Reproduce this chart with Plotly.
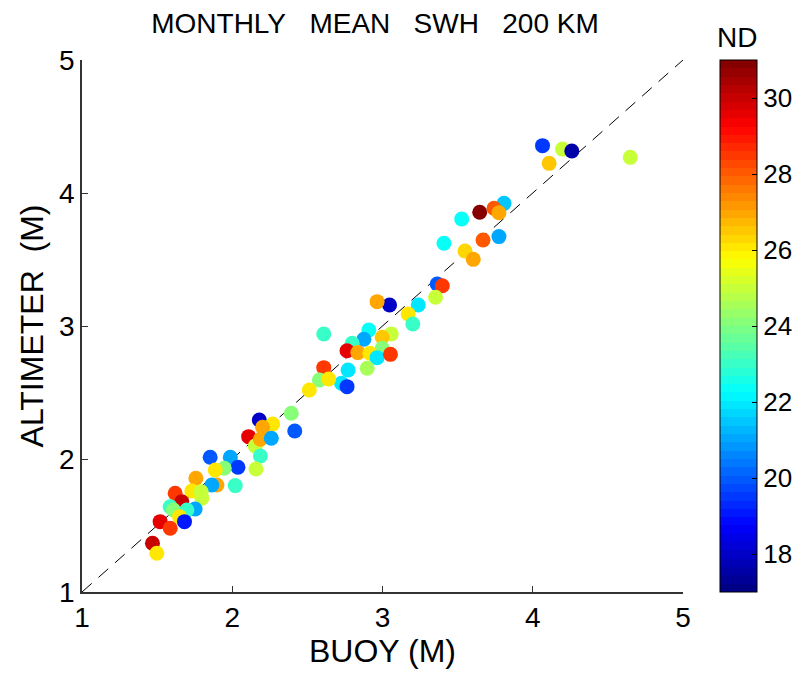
import plotly.graph_objects as go

# Data: buoy SWH (x), altimeter SWH (y), number of days (ND, colour)
buoy = [4.065, 4.198, 4.26, 4.109, 4.649,
        3.809, 3.742, 3.775, 3.647, 3.527, 3.775, 3.669, 3.409, 3.549, 3.604,
        3.364, 3.398, 3.353, 3.047, 3.238, 2.964, 3.171, 3.202,
        2.609, 2.909, 2.876, 3.058, 2.998, 2.798, 2.998, 2.764, 2.836, 2.916,
        2.964, 3.053, 2.771, 2.898, 2.727, 2.764, 2.609, 2.58, 2.642, 2.513,
        2.393, 2.18, 2.269, 2.202, 2.416, 2.109, 2.153, 2.187, 2.26,
        2.187, 2.158, 1.853, 1.987, 2.038, 1.947, 1.887, 2.02, 1.758, 1.898,
        1.864, 1.731, 1.793, 1.798, 1.62, 1.664, 1.587, 1.609, 1.753, 1.698,
        1.649, 1.682, 1.52, 1.587, 1.469, 1.498]
altimeter = [4.356, 4.33, 4.316, 4.223, 4.268,
             3.922, 3.885, 3.852, 3.855, 3.805, 3.672, 3.647, 3.622, 3.564, 3.501,
             3.316, 3.303, 3.216, 3.158, 3.158, 3.183, 3.09, 3.015,
             2.94, 2.97, 2.9, 2.94, 2.915, 2.87, 2.833, 2.814, 2.8, 2.795,
             2.762, 2.787, 2.669, 2.682, 2.569, 2.544, 2.687, 2.594, 2.602, 2.519,
             2.344, 2.293, 2.263, 2.238, 2.21, 2.168, 2.098, 2.148, 2.156,
             2.023, 1.925, 2.013, 2.013, 1.938, 1.93, 1.917, 1.8, 1.855, 1.805,
             1.805, 1.759, 1.754, 1.705, 1.742, 1.679, 1.641, 1.617, 1.624, 1.617,
             1.566, 1.529, 1.529, 1.479, 1.366, 1.291]
nd = [19.5, 25, 17.5, 26.5, 25,
      21.5, 28, 27, 31, 22.3, 21, 28, 22.3, 26.3, 27,
      20, 28.5, 25, 18, 22, 27, 26, 23,
      23, 22.3, 21, 25, 26.5, 23, 24, 29.5, 27, 26,
      22, 28.5, 22, 24.5, 22, 19.5, 28.5, 24, 26, 26,
      24, 18, 26, 27, 20, 29.5, 25, 27, 21,
      23, 25, 20, 21, 19.5, 24, 26, 23, 27, 27,
      21, 26, 25, 25, 28.5, 30, 23, 24, 21, 23,
      26, 19, 29.5, 28.5, 30, 26]

line_x = [1, 5]
line_y = [1, 5]
x_ticks = [1, 2, 3, 4, 5]
y_ticks = [1, 2, 3, 4, 5]
cb_ticks = [18, 20, 22, 24, 26, 28, 30]
title_text = "MONTHLY\u00a0\u00a0\u00a0MEAN\u00a0\u00a0\u00a0SWH\u00a0\u00a0\u00a0200 KM"


def matlab_jet(n):
    cols = []
    for i in range(n):
        t = (i + 0.5) / n
        r = min(max(min(4 * t - 1.5, -4 * t + 4.5), 0), 1)
        g = min(max(min(4 * t - 0.5, -4 * t + 3.5), 0), 1)
        b = min(max(min(4 * t + 0.5, -4 * t + 2.5), 0), 1)
        cols.append(f"rgb({round(r*255)},{round(g*255)},{round(b*255)})")
    return cols


N = 64
jet = matlab_jet(N)
colorscale = []
for i, c in enumerate(jet):
    colorscale.append([i / N, c])
    colorscale.append([(i + 1) / N, c])

FONT = "Liberation Sans, Arial, Helvetica, sans-serif"

# the page body adds an 8 px offset, so the figure is 795x670
W, H = 795, 670

fig = go.Figure()
fig.add_trace(go.Scatter(
    x=line_x, y=line_y, mode="lines",
    line=dict(color="black", width=1, dash="13px,9px"),
    showlegend=False, hoverinfo="skip"))
fig.add_trace(go.Scatter(
    x=buoy, y=altimeter, mode="markers",
    marker=dict(size=15, color=nd, colorscale=colorscale, cmin=17, cmax=31,
                line=dict(width=0),
                colorbar=dict(
                    x=1.0616, xanchor="left", xpad=0, ypad=0,
                    y=0.5, yanchor="middle", len=1, lenmode="fraction",
                    thickness=37, outlinecolor="black", outlinewidth=1,
                    tickvals=cb_ticks, ticks="inside", ticklen=5,
                    tickcolor="black",
                    tickfont=dict(family=FONT, size=26, color="black"))),
    showlegend=False))

fig.add_annotation(text="ND", xref="paper", yref="paper",
                   x=(737 - 82) / 601, y=1 + 23 / 532, xanchor="center", yanchor="middle",
                   showarrow=False, font=dict(family=FONT, size=28, color="black"))

fig.update_layout(
    width=W, height=H,
    margin=dict(l=74, r=120, t=52, b=86, autoexpand=False),
    paper_bgcolor="white", plot_bgcolor="white",
    title=dict(text=title_text, x=367 / W, xanchor="center",
               y=1 - 15 / H, yanchor="middle", xref="container",
               font=dict(family=FONT, size=28, color="black")),
    font=dict(family=FONT, color="black"),
)
fig.update_xaxes(range=[1, 5], tickvals=x_ticks, showgrid=False, zeroline=False,
                 showline=True, linecolor="#333", linewidth=1.5, mirror=False,
                 ticks="inside", ticklen=6, tickcolor="#333", automargin=False,
                 tickfont=dict(family=FONT, size=28, color="black"),
                 title=dict(text="BUOY (M)", standoff=6,
                            font=dict(family=FONT, size=32, color="black")))
fig.update_yaxes(range=[1, 5], tickvals=y_ticks, showgrid=False, zeroline=False,
                 showline=True, linecolor="#333", linewidth=1.5, mirror=False,
                 ticks="inside", ticklen=6, tickcolor="#333", automargin=False,
                 tickfont=dict(family=FONT, size=28, color="black"),
                 title=dict(text="ALTIMETER\u00a0\u00a0(M)", standoff=6,
                            font=dict(family=FONT, size=32, color="black")))

fig.write_html("out.html")
